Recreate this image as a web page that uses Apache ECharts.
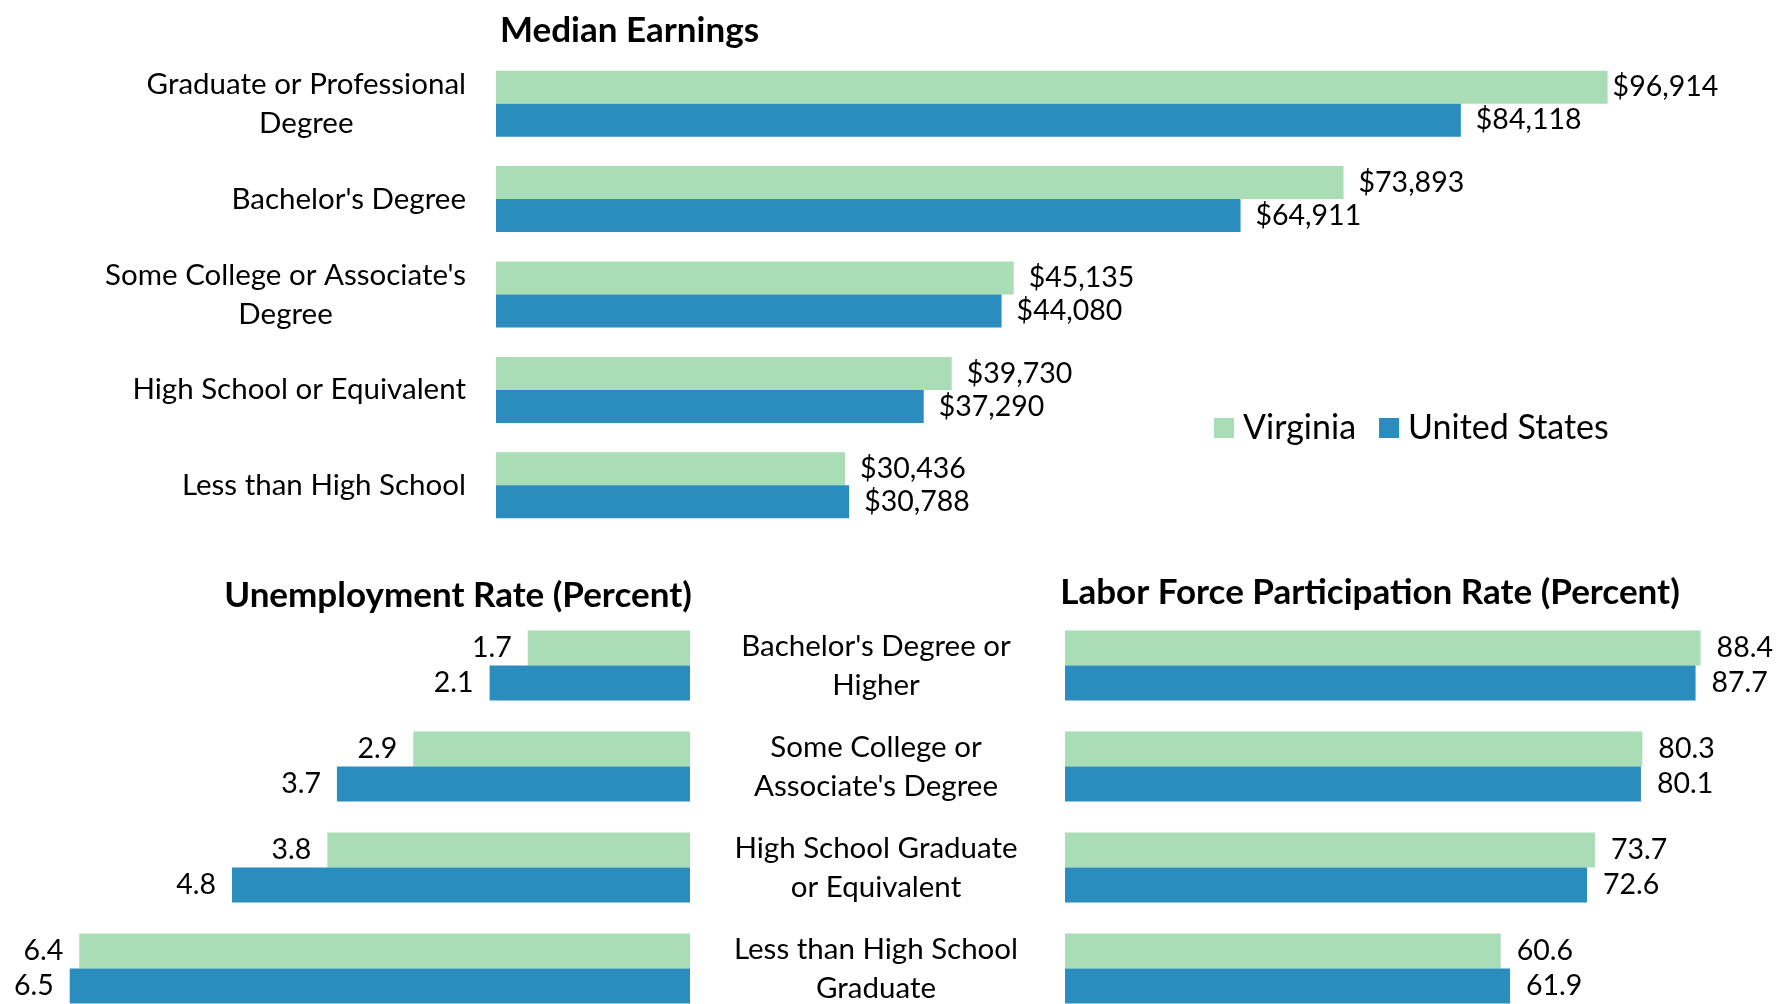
<!DOCTYPE html>
<html>
<head>
    <meta charset="UTF-8">
    <title>Education and Earnings</title>
    <script type="text/javascript" src="https://cdn.jsdelivr.net/npm/echarts@6/dist/echarts.min.js"></script>
    <style>
        body { margin: 0; background: #fff; }
        #main { width: 1792px; height: 1004px; }
    </style>
</head>
<body>
<div id="main"></div>
<script type="text/javascript">
    // median earnings (top chart)
    var earnCats = ['Graduate or Professional\nDegree', "Bachelor's Degree", "Some College or Associate's\nDegree", 'High School or Equivalent', 'Less than High School'];
    var earnVA = [96914, 73893, 45135, 39730, 30436];
    var earnUS = [84118, 64911, 44080, 37290, 30788];

    // unemployment + labor force (bottom charts share categories)
    var rateCats = ["Bachelor's Degree or\nHigher", "Some College or\nAssociate's Degree", 'High School Graduate\nor Equivalent', 'Less than High School\nGraduate'];
    var unempVA = [1.7, 2.9, 3.8, 6.4];
    var unempUS = [2.1, 3.7, 4.8, 6.5];
    var lfprVA = [88.4, 80.3, 73.7, 60.6];
    var lfprUS = [87.7, 80.1, 72.6, 61.9];

    var green = '#a8ddb5', blue = '#2b8cbe';
    var font = 'Lato';

    function money(v) {
        return '$' + String(v).replace(/\B(?=(\d{3})+(?!\d))/g, ',');
    }
    // each line centred inside the label block
    function centred(s) {
        return s.split('\n').map(function (l) { return '{c|' + l + '}'; }).join('\n');
    }

    var labelText = { color: '#000', fontFamily: font, fontSize: 28.5 };
    var catRich = { c: { align: 'center', fontFamily: font, fontSize: 29.5, lineHeight: 39, color: '#000' } };
    var titleText = { fontFamily: font, fontSize: 35, fontWeight: 'bold', color: '#000' };

    // the longest label sits tight against its bar in the original
    var earnVAData = earnVA.map(function (v, i) {
        return i === 0 ? { value: v, label: { distance: 5 } } : v;
    });

    var myChart = echarts.init(document.getElementById('main'));
    myChart.setOption({
        animation: false,
        textStyle: { fontFamily: font },
        title: [
            { text: 'Median Earnings', left: 500, top: 13, padding: 0, textStyle: titleText },
            { text: 'Unemployment Rate (Percent)', left: 458, top: 578, padding: 0, textAlign: 'center', textStyle: titleText },
            { text: 'Labor Force Participation Rate (Percent)', left: 1370, top: 575, padding: 0, textAlign: 'center', textStyle: titleText }
        ],
        legend: {
            data: ['Virginia', 'United States'],
            left: 1209, top: 406,
            itemWidth: 20, itemHeight: 20, itemGap: 23,
            icon: 'rect',
            textStyle: { fontFamily: font, fontSize: 34, color: '#000', padding: [0, 0, 0, 4] }
        },
        grid: [
            { left: 496, width: 1147, top: 56, height: 477, outerBoundsMode: 'none' },
            { left: 22, width: 668, top: 615, height: 404, outerBoundsMode: 'none' },
            { left: 1065, width: 719, top: 615, height: 404, outerBoundsMode: 'none' }
        ],
        xAxis: [
            { gridIndex: 0, type: 'value', min: 0, max: 100000, show: false },
            { gridIndex: 1, type: 'value', min: 0, max: 7, inverse: true, show: false },
            { gridIndex: 2, type: 'value', min: 0, max: 100, show: false }
        ],
        yAxis: [
            { gridIndex: 0, type: 'category', data: earnCats, inverse: true,
              axisLine: { show: false }, axisTick: { show: false },
              axisLabel: { margin: 30, align: 'right', formatter: centred, rich: catRich } },
            { gridIndex: 1, type: 'category', data: rateCats, inverse: true, show: false },
            { gridIndex: 2, type: 'category', data: rateCats, inverse: true,
              axisLine: { show: false }, axisTick: { show: false },
              axisLabel: { margin: 189, align: 'center', formatter: centred, rich: catRich } }
        ],
        series: [
            { name: 'Virginia', type: 'bar', xAxisIndex: 0, yAxisIndex: 0, data: earnVAData,
              barWidth: 33, barGap: '0%', itemStyle: { color: green },
              label: Object.assign({ show: true, position: 'right', distance: 15,
                  formatter: function (p) { return money(p.value); } }, labelText) },
            { name: 'United States', type: 'bar', xAxisIndex: 0, yAxisIndex: 0, data: earnUS,
              barWidth: 33, barGap: '0%', itemStyle: { color: blue },
              label: Object.assign({ show: true, position: 'right', distance: 15,
                  formatter: function (p) { return money(p.value); } }, labelText) },
            { name: 'Virginia', type: 'bar', xAxisIndex: 1, yAxisIndex: 1, data: unempVA,
              barWidth: 35, barGap: '0%', itemStyle: { color: green },
              label: Object.assign({ show: true, position: 'left', distance: 16,
                  formatter: function (p) { return p.value.toFixed(1); } }, labelText) },
            { name: 'United States', type: 'bar', xAxisIndex: 1, yAxisIndex: 1, data: unempUS,
              barWidth: 35, barGap: '0%', itemStyle: { color: blue },
              label: Object.assign({ show: true, position: 'left', distance: 16,
                  formatter: function (p) { return p.value.toFixed(1); } }, labelText) },
            { name: 'Virginia', type: 'bar', xAxisIndex: 2, yAxisIndex: 2, data: lfprVA,
              barWidth: 35, barGap: '0%', itemStyle: { color: green },
              label: Object.assign({ show: true, position: 'right', distance: 16,
                  formatter: function (p) { return p.value.toFixed(1); } }, labelText) },
            { name: 'United States', type: 'bar', xAxisIndex: 2, yAxisIndex: 2, data: lfprUS,
              barWidth: 35, barGap: '0%', itemStyle: { color: blue },
              label: Object.assign({ show: true, position: 'right', distance: 16,
                  formatter: function (p) { return p.value.toFixed(1); } }, labelText) }
        ]
    });
</script>
</body>
</html>
